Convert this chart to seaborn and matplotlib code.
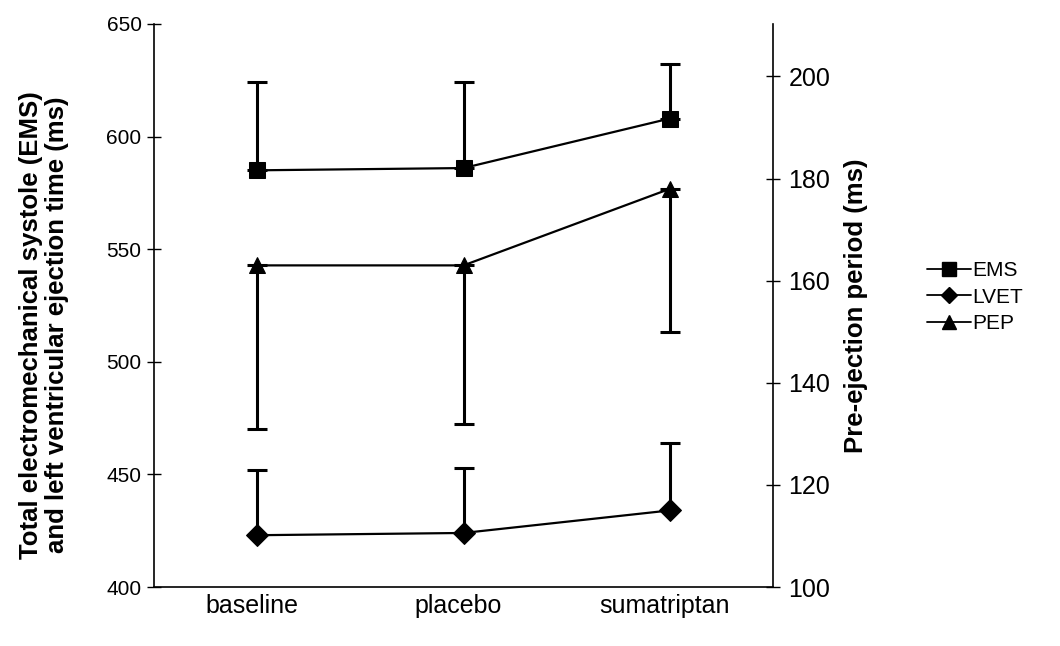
import matplotlib
matplotlib.use("Agg")
import matplotlib.pyplot as plt
import matplotlib.transforms as mtransforms
from matplotlib.lines import Line2D
import seaborn as sns
import pandas as pd

# Conditions on the x axis
conditions = ["baseline", "placebo", "sumatriptan"]

# Mean values (ms)
ems = [585, 586, 608]          # total electromechanical systole, left axis
lvet = [423, 424, 434]         # LVET, left axis
pep = [163, 163, 178]          # pre-ejection period, right axis

# One-sided error bars (ms)
ems_err = [39, 38, 24]         # drawn upward
lvet_err = [29, 29, 30]        # drawn upward
pep_err = [32, 31, 28]         # drawn downward

sns.set_theme(style="white")
plt.rcParams["font.family"] = ["Liberation Sans", "DejaVu Sans"]

fig = plt.figure(figsize=(10.6, 6.46), dpi=100)
ax = fig.add_axes([0.1453, 0.0913, 0.5840, 0.8717])
ax2 = ax.twinx()

x = list(range(len(conditions)))
left_df = pd.DataFrame({
    "x": x * 2,
    "value": ems + lvet,
    "series": ["EMS"] * 3 + ["LVET"] * 3,
})
right_df = pd.DataFrame({"x": x, "value": pep, "series": ["PEP"] * 3})

black = "#000000"
sns.lineplot(data=left_df, x="x", y="value", style="series",
             markers={"EMS": "s", "LVET": "D"}, dashes=False,
             color=black, linewidth=1.6, markersize=11,
             markeredgecolor=black, legend=False, ax=ax, zorder=3)
sns.lineplot(data=right_df, x="x", y="value", style="series",
             markers={"PEP": "^"}, dashes=False,
             color=black, linewidth=1.6, markersize=11,
             markeredgecolor=black, legend=False, ax=ax2, zorder=3)

ax.errorbar(x, ems, yerr=[[0] * 3, ems_err], fmt="none", ecolor=black,
            elinewidth=2.2, capsize=7.5, capthick=2.2, zorder=2)
ax.errorbar(x, lvet, yerr=[[0] * 3, lvet_err], fmt="none", ecolor=black,
            elinewidth=2.2, capsize=7.5, capthick=2.2, zorder=2)
ax2.errorbar(x, pep, yerr=[pep_err, [0] * 3], fmt="none", ecolor=black,
             elinewidth=2.2, capsize=7.5, capthick=2.2, zorder=2)

ax.set_xlim(-0.5, 2.5)
ax.set_ylim(400, 650)
ax2.set_ylim(100, 210.3)
ax.set_yticks([400, 450, 500, 550, 600, 650])
ax2.set_yticks([100, 120, 140, 160, 180, 200])
ax.set_xticks(x)
ax.set_xticklabels(conditions)
ax.set_xlabel("")
ax.set_ylabel("Total electromechanical systole (EMS)\nand left ventricular ejection time (ms)",
              fontsize=18.5, fontweight="bold", linespacing=1.1, color=black)
ax.yaxis.set_label_coords(-0.137, 0.465)
ax2.set_ylabel("Pre-ejection period (ms)", fontsize=18.5, fontweight="bold", color=black)
ax2.yaxis.set_label_coords(1.115, 0.50)

for a in (ax, ax2):
    a.grid(False)
    a.spines["top"].set_visible(False)
    for s in ("left", "right", "bottom"):
        a.spines[s].set_color(black)
        a.spines[s].set_linewidth(1.2)
    a.tick_params(axis="y", direction="inout", length=10, width=1.0,
                  colors=black, labelcolor=black)
ax.tick_params(axis="y", left=True, right=False, labelsize=15, pad=4)
ax2.tick_params(axis="y", right=True, left=False, labelsize=18, pad=6)
ax.tick_params(axis="x", length=0, labelsize=18, pad=5, colors=black, labelcolor=black)
ax2.spines["left"].set_visible(False)
ax2.spines["bottom"].set_visible(False)
ax.spines["right"].set_visible(False)

# nudge category labels slightly to the left
shift = mtransforms.ScaledTranslation(-5 / 100, 0, fig.dpi_scale_trans)
for lbl in ax.get_xticklabels():
    lbl.set_transform(lbl.get_transform() + shift)

handles = [
    Line2D([], [], color=black, marker="s", markersize=10, linewidth=1.3, label="EMS"),
    Line2D([], [], color=black, marker="D", markersize=8, linewidth=1.3, label="LVET"),
    Line2D([], [], color=black, marker="^", markersize=10, linewidth=1.3, label="PEP"),
]
leg = fig.legend(handles=handles, loc="center left", bbox_to_anchor=(0.8665, 0.54),
                 frameon=False, fontsize=15, handlelength=2.1, handletextpad=0.1,
                 labelspacing=0.35, borderaxespad=0)
for t in leg.get_texts():
    t.set_color(black)

fig.savefig("out.png", dpi=100, facecolor="white")
